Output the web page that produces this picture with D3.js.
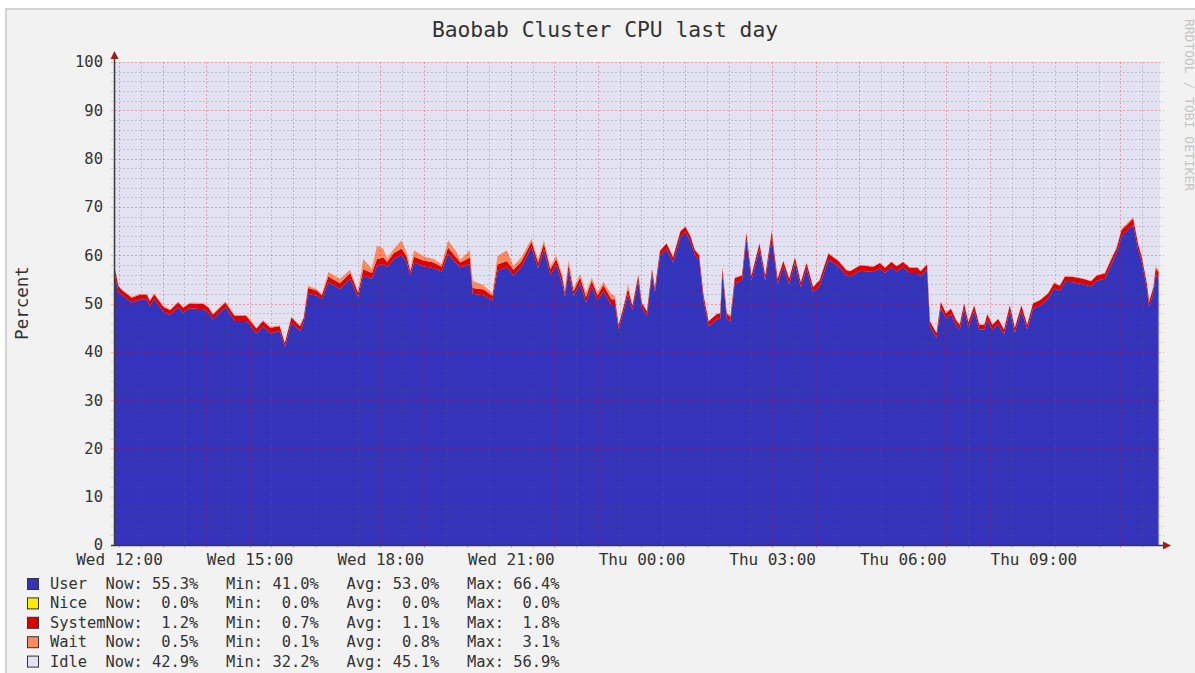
<!DOCTYPE html>
<html>
<head>
<meta charset="utf-8">
<title>Baobab Cluster CPU last day</title>
<script src="https://cdn.jsdelivr.net/npm/d3@7"></script>
<style>
  html, body { margin: 0; padding: 0; background: #ffffff; }
  svg { display: block; font-family: "DejaVu Sans Mono", monospace; }
</style>
</head>
<body>
<div id="chart"></div>
<script>
// Ganglia / RRDtool style stacked CPU graph, one day of samples

// minutes since the start of the window (Wed 11:54:30)
const minutes = [
  0, 5, 11, 23, 34, 44, 48, 54, 67, 76,
  87, 94, 103, 122, 129, 135, 152, 165, 181, 195,
  204, 214, 227, 234, 243, 255, 260, 266, 278, 285,
  294, 310, 324, 335, 342, 354, 361, 370, 375, 384,
  395, 402, 407, 412, 425, 439, 450, 459, 471, 476,
  489, 493, 508, 520, 527, 540, 549, 560, 574, 583,
  591, 600, 608, 616, 620, 625, 632, 641, 649, 657,
  665, 673, 684, 689, 694, 700, 707, 713, 721, 726,
  733, 740, 744, 751, 760, 769, 779, 786, 793, 799,
  805, 811, 818, 829, 834, 837, 843, 848, 854, 864,
  870, 877, 888, 896, 905, 913, 921, 929, 937, 945,
  953, 962, 971, 983, 997, 1008, 1013, 1027, 1045, 1054,
  1061, 1070, 1077, 1086, 1095, 1106, 1110, 1119, 1123, 1132,
  1138, 1145, 1152, 1159, 1164, 1170, 1176, 1184, 1191, 1198,
  1202, 1209, 1217, 1225, 1233, 1240, 1249, 1257, 1265, 1275,
  1286, 1294, 1302, 1309, 1321, 1334, 1345, 1353, 1364, 1372,
  1380, 1387, 1396, 1403, 1410, 1415, 1422, 1425, 1431, 1434, 1438
];

const userPct = [
  55.8, 52.3, 51.6, 50.2, 50.8, 50.8, 49.5, 50.9, 48.3, 47.6,
  49.2, 48.1, 49.0, 48.8, 48.1, 46.7, 49.2, 46.4, 46.4, 43.8,
  45.3, 43.8, 44.3, 41.0, 46.0, 44.3, 46.0, 52.0, 51.6, 50.9,
  54.4, 53.0, 55.1, 51.3, 55.8, 55.1, 57.8, 58.2, 57.5, 59.2,
  60.1, 58.5, 55.8, 58.5, 57.7, 57.3, 56.6, 60.3, 58.2, 57.5,
  58.2, 52.0, 51.7, 50.6, 56.8, 57.5, 55.8, 57.5, 61.7, 57.3,
  61.2, 55.9, 58.0, 54.4, 51.4, 56.8, 51.6, 54.2, 50.2, 53.5,
  50.6, 52.6, 49.7, 49.7, 44.7, 48.0, 51.9, 48.7, 54.7, 49.2,
  47.4, 56.1, 52.3, 59.9, 61.3, 58.5, 63.7, 64.8, 62.8, 60.1,
  58.9, 50.6, 45.3, 46.7, 46.9, 56.1, 46.9, 46.2, 54.2, 54.7,
  63.4, 54.7, 61.3, 54.7, 63.7, 54.0, 57.7, 54.0, 58.4, 53.3,
  57.3, 52.3, 53.7, 59.1, 57.7, 55.8, 55.6, 56.8, 56.5, 57.3,
  56.3, 57.5, 56.6, 57.5, 56.3, 56.3, 55.6, 57.0, 45.3, 42.9,
  49.2, 46.9, 47.8, 45.5, 44.6, 48.9, 45.0, 48.5, 44.6, 44.6,
  46.7, 44.6, 45.7, 43.6, 48.5, 44.0, 48.5, 44.6, 48.9, 49.6,
  51.0, 53.1, 52.6, 54.5, 54.4, 54.0, 53.5, 54.7, 55.1, 57.8,
  60.3, 64.0, 65.3, 66.3, 61.0, 58.5, 53.0, 49.4, 52.3, 56.1, 55.3
];

const systemPct = [
  1.2, 1.2, 1.0, 1.0, 1.0, 1.0, 1.0, 1.0, 1.0, 1.0,
  1.0, 1.0, 1.0, 1.1, 1.0, 1.0, 1.0, 1.0, 1.0, 1.0,
  1.1, 1.2, 1.0, 0.8, 1.1, 1.0, 1.0, 1.2, 1.1, 0.8,
  1.2, 1.2, 1.2, 0.9, 1.3, 1.2, 1.4, 1.3, 1.1, 1.2,
  1.3, 1.2, 0.9, 1.2, 1.2, 1.2, 1.0, 1.3, 1.2, 1.0,
  1.3, 1.2, 1.2, 1.0, 1.3, 1.3, 1.2, 1.2, 1.1, 1.2,
  1.2, 1.2, 1.2, 1.2, 1.0, 1.2, 1.0, 1.2, 1.2, 1.2,
  1.1, 1.2, 1.2, 1.2, 0.9, 0.9, 1.2, 0.9, 1.1, 0.9,
  1.0, 1.0, 0.9, 1.0, 1.1, 1.1, 1.2, 1.1, 1.1, 1.0,
  1.1, 1.1, 1.0, 1.1, 1.1, 1.2, 1.1, 1.0, 1.1, 1.1,
  1.2, 1.1, 1.1, 1.1, 1.2, 1.1, 1.1, 1.1, 1.1, 1.1,
  1.1, 1.1, 1.1, 1.2, 1.1, 1.1, 1.1, 1.1, 1.1, 1.1,
  1.1, 1.1, 1.1, 1.1, 1.1, 1.1, 1.1, 1.1, 1.0, 1.0,
  1.1, 1.1, 1.1, 1.1, 1.0, 1.1, 1.1, 1.1, 1.0, 1.0,
  1.1, 1.0, 1.1, 1.0, 1.1, 1.0, 1.1, 1.0, 1.1, 1.1,
  1.1, 1.1, 1.1, 1.1, 1.1, 1.1, 1.1, 1.1, 1.1, 1.1,
  1.1, 1.2, 1.2, 1.3, 1.2, 1.1, 1.1, 1.0, 1.1, 1.2, 1.2
];

const waitPct = [
  0.2, 0.2, 0.2, 0.2, 0.2, 0.2, 0.2, 0.2, 0.2, 0.2,
  0.2, 0.2, 0.2, 0.2, 0.2, 0.2, 0.2, 0.2, 0.2, 0.2,
  0.2, 0.2, 0.2, 0.1, 0.2, 0.2, 0.2, 0.5, 0.3, 0.2,
  0.9, 0.9, 0.7, 0.4, 2.1, 0.9, 2.8, 1.8, 0.7, 0.9,
  1.7, 0.8, 0.5, 1.3, 0.9, 0.7, 0.6, 1.5, 1.2, 0.6,
  1.5, 1.5, 0.9, 0.5, 1.7, 2.2, 0.8, 0.9, 0.6, 0.7,
  0.7, 0.6, 0.7, 0.7, 0.6, 0.9, 0.6, 0.7, 0.8, 0.7,
  0.6, 0.7, 1.0, 0.7, 0.1, 0.1, 0.9, 0.1, 0.3, 0.1,
  0.1, 0.1, 0.1, 0.1, 0.1, 0.1, 0.1, 0.1, 0.1, 0.1,
  0.1, 0.1, 0.1, 0.1, 0.1, 0.2, 0.1, 0.1, 0.1, 0.1,
  0.2, 0.1, 0.1, 0.1, 0.2, 0.1, 0.1, 0.1, 0.1, 0.1,
  0.1, 0.1, 0.1, 0.2, 0.1, 0.1, 0.1, 0.1, 0.1, 0.1,
  0.1, 0.1, 0.1, 0.1, 0.1, 0.1, 0.1, 0.1, 0.1, 0.1,
  0.1, 0.1, 0.1, 0.1, 0.1, 0.1, 0.1, 0.1, 0.1, 0.1,
  0.1, 0.1, 0.1, 0.1, 0.1, 0.1, 0.1, 0.1, 0.1, 0.1,
  0.1, 0.2, 0.1, 0.1, 0.1, 0.1, 0.1, 0.1, 0.2, 0.2,
  0.2, 0.3, 0.3, 0.3, 0.2, 0.2, 0.2, 0.2, 0.3, 0.4, 0.5
];

// legend table
const seriesNames = ["User", "Nice", "System", "Wait", "Idle"];
const seriesColors = ["#3333bb", "#ffea00", "#dd0000", "#ff8a60", "#e2e2f2"];
const nowVals = [55.3, 0.0, 1.2, 0.5, 42.9];
const minVals = [41.0, 0.0, 0.7, 0.1, 32.2];
const avgVals = [53.0, 0.0, 1.1, 0.8, 45.1];
const maxVals = [66.4, 0.0, 1.8, 3.1, 56.9];

const yTicks = [0, 10, 20, 30, 40, 50, 60, 70, 80, 90, 100];

const width = 1195;
const height = 673;
const plot = { left: 115, right: 1160, top: 62, bottom: 545 };

const start = new Date(2011, 5, 15, 11, 54, 30);
const end = new Date(start.getTime() + 24 * 3600 * 1000);

const rows = minutes.map((m, i) => ({
  time: new Date(start.getTime() + m * 60000),
  user: userPct[i],
  system: systemPct[i],
  wait: waitPct[i]
}));

const svg = d3.select("#chart")
  .append("svg")
  .attr("width", width)
  .attr("height", height);

// canvas with its light frame
svg.append("rect")
  .attr("x", 6).attr("y", 9)
  .attr("width", width + 20).attr("height", height + 20)
  .attr("fill", "#f2f2f2")
  .attr("stroke", "#d2d2d2")
  .attr("stroke-width", 2);

const x = d3.scaleTime()
  .domain([start, end])
  .range([plot.left, plot.right]);

const y = d3.scaleLinear()
  .domain([0, 100])
  .range([plot.bottom, plot.top]);

// title
svg.append("text")
  .attr("x", 605)
  .attr("y", 37)
  .attr("text-anchor", "middle")
  .style("font-size", "21.3px")
  .style("fill", "#333")
  .text("Baobab Cluster CPU last day");

// watermark on the right edge
svg.append("text")
  .attr("transform", "translate(1189,105) rotate(90)")
  .attr("text-anchor", "middle")
  .attr("dominant-baseline", "central")
  .style("font-size", "13px")
  .style("fill", "#c4c4c4")
  .text("RRDTOOL / TOBI OETIKER");

// y label
svg.append("text")
  .attr("transform", "translate(28,303) rotate(-90)")
  .attr("text-anchor", "middle")
  .style("font-size", "17.5px")
  .style("fill", "#333")
  .text("Percent");

// idle background (the rest up to 100%)
svg.append("rect")
  .attr("x", x.range()[0])
  .attr("y", y(100))
  .attr("width", x.range()[1] - x.range()[0])
  .attr("height", y(0) - y(100))
  .attr("fill", seriesColors[4]);

// stacked areas
const keys = ["user", "system", "wait"];
const keyColors = { user: seriesColors[0], system: seriesColors[2], wait: seriesColors[3] };
const stacked = d3.stack().keys(keys)(rows);

const area = d3.area()
  .x(d => x(d.data.time))
  .y0(d => y(d[0]))
  .y1(d => y(d[1]));

svg.append("g")
  .selectAll("path")
  .data(stacked)
  .join("path")
  .attr("fill", d => keyColors[d.key])
  .attr("d", area);

// grid, drawn over the graph like rrdtool does
const minorX = x.ticks(d3.timeMinute.every(30)).filter(d => d.getMinutes() === 30);
const majorX = x.ticks(d3.timeHour.every(1));
const minorY = d3.range(2, 100, 2).filter(v => v % 10 !== 0);

function gridStyle(g, color) {
  g.select(".domain").remove();
  g.selectAll(".tick line")
    .attr("stroke", color)
    .attr("stroke-width", 1)
    .attr("stroke-dasharray", "2,2")
    .attr("shape-rendering", "crispEdges");
}

svg.append("g")
  .attr("transform", `translate(0,${plot.bottom + 3})`)
  .call(d3.axisBottom(x).tickValues(minorX).tickSize(-(plot.bottom + 3 - plot.top)).tickFormat(""))
  .call(g => gridStyle(g, "rgba(100,100,100,0.27)"));

svg.append("g")
  .attr("transform", `translate(${plot.left - 4},0)`)
  .call(d3.axisLeft(y).tickValues(minorY).tickSize(-(plot.right + 4 - plot.left + 4)).tickFormat(""))
  .call(g => gridStyle(g, "rgba(100,100,100,0.27)"));

svg.append("g")
  .attr("transform", `translate(0,${plot.bottom + 3})`)
  .call(d3.axisBottom(x).tickValues(majorX).tickSize(-(plot.bottom + 3 - plot.top)).tickFormat(""))
  .call(g => gridStyle(g, "rgba(255,0,0,0.3)"));

svg.append("g")
  .attr("transform", `translate(${plot.left - 4},0)`)
  .call(d3.axisLeft(y).tickValues(yTicks.slice(1)).tickSize(-(plot.right + 4 - plot.left + 4)).tickFormat(""))
  .call(g => gridStyle(g, "rgba(255,0,0,0.3)"));

// axis lines + arrows
svg.append("line")
  .attr("x1", plot.left - 0.5).attr("x2", plot.left - 0.5)
  .attr("y1", plot.bottom).attr("y2", plot.top - 6)
  .attr("stroke", "#3a3a3a").attr("stroke-width", 1.5);

svg.append("line")
  .attr("x1", plot.left - 4).attr("x2", plot.right + 5)
  .attr("y1", plot.bottom + 0.5).attr("y2", plot.bottom + 0.5)
  .attr("stroke", "#3a3a3a").attr("stroke-width", 1.5);

svg.append("path")
  .attr("d", `M${plot.left - 4.5},${plot.top - 3} L${plot.left + 3.5},${plot.top - 3} L${plot.left - 0.5},${plot.top - 11} Z`)
  .attr("fill", "#a81818");

svg.append("path")
  .attr("d", `M${plot.right + 3},${plot.bottom - 3.5} L${plot.right + 3},${plot.bottom + 4.5} L${plot.right + 11},${plot.bottom + 0.5} Z`)
  .attr("fill", "#a81818");

// tick labels
svg.append("g")
  .attr("transform", `translate(103,0)`)
  .call(d3.axisLeft(y).tickValues(yTicks).tickSize(0).tickPadding(0))
  .call(g => g.select(".domain").remove())
  .call(g => g.selectAll("text")
    .style("font-family", "DejaVu Sans Mono")
    .style("font-size", "15.5px")
    .attr("fill", "#333"));

svg.append("g")
  .attr("transform", `translate(0,${plot.bottom})`)
  .call(d3.axisBottom(x).ticks(d3.timeHour.every(3)).tickFormat(d3.timeFormat("%a %H:%M")).tickSize(0).tickPadding(8.6))
  .call(g => g.select(".domain").remove())
  .call(g => g.selectAll("text")
    .style("font-family", "DejaVu Sans Mono")
    .style("font-size", "16px")
    .attr("fill", "#333"));

// legend
const fmt = d3.format("5.1f");
const legend = svg.append("g");

seriesNames.forEach((name, i) => {
  const baseY = 589 + i * 19.4;

  legend.append("rect")
    .attr("x", 27.5)
    .attr("y", baseY - 10.5)
    .attr("width", 11)
    .attr("height", 11)
    .attr("fill", seriesColors[i])
    .attr("stroke", "#333")
    .attr("stroke-width", 1);

  const line = name.padEnd(6, " ") +
    "Now:" + fmt(nowVals[i]) + "%   " +
    "Min:" + fmt(minVals[i]) + "%   " +
    "Avg:" + fmt(avgVals[i]) + "%   " +
    "Max:" + fmt(maxVals[i]) + "%";

  legend.append("text")
    .attr("x", 50)
    .attr("y", baseY)
    .attr("xml:space", "preserve")
    .style("white-space", "pre")
    .style("font-size", "15.4px")
    .style("fill", "#333")
    .text(line);
});
</script>
</body>
</html>
